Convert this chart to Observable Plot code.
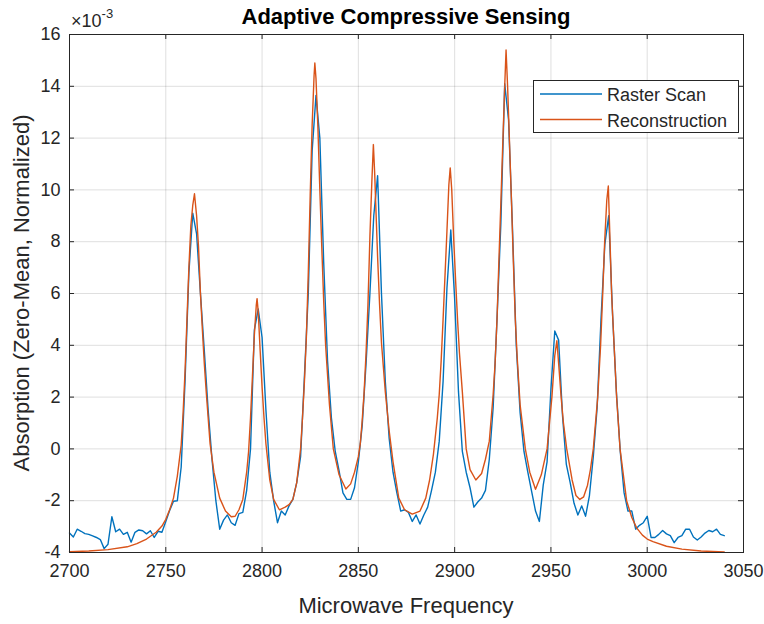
<!DOCTYPE html>
<html><head><meta charset="utf-8">
<script src="https://cdn.jsdelivr.net/npm/d3@7"></script>
<script src="https://cdn.jsdelivr.net/npm/@observablehq/plot@0.6"></script>
<style>body{margin:0;background:#fff} #chart{width:764px;height:624px}</style>
</head><body><div id="chart"></div>
<script>
const titleText = "Adaptive Compressive Sensing";
const xLabel = "Microwave Frequency";
const yLabel = "Absorption (Zero-Mean, Normalized)";
const exponentBase = "\u00D710";
const exponentPower = "-3";
const seriesNames = ["Raster Scan", "Reconstruction"];
const seriesColors = ["#0072BD", "#D95319"];

const xTicks = [2700, 2750, 2800, 2850, 2900, 2950, 3000, 3050];
const yTicks = [-4, -2, 0, 2, 4, 6, 8, 10, 12, 14, 16];
const yTickLabels = ["-4", "-2", "0", "2", "4", "6", "8", "10", "12", "14", "16"];

// Raster Scan (values in units of 1e-3)
const rasterFreq = [2700,2702,2704,2706,2708,2710,2712,2714,2716,2718,2720,2722,2724,2726,2728,2730,2732,2734,2736,2738,2740,2742,2744,2746,2748,2750,2752,2754,2756,2758,2760,2762,2764,2766,2768,2770,2772,2774,2776,2778,2780,2782,2784,2786,2788,2790,2792,2794,2796,2798,2800,2802,2804,2806,2808,2810,2812,2814,2816,2818,2820,2822,2824,2826,2828,2830,2832,2834,2836,2838,2840,2842,2844,2846,2848,2850,2852,2854,2856,2858,2860,2862,2864,2866,2868,2870,2872,2874,2876,2878,2880,2882,2884,2886,2888,2890,2892,2894,2896,2898,2900,2902,2904,2906,2908,2910,2912,2914,2916,2918,2920,2922,2924,2926,2928,2930,2932,2934,2936,2938,2940,2942,2944,2946,2948,2950,2952,2954,2956,2958,2960,2962,2964,2966,2968,2970,2972,2974,2976,2978,2980,2982,2984,2986,2988,2990,2992,2994,2996,2998,3000,3002,3004,3006,3008,3010,3012,3014,3016,3018,3020,3022,3024,3026,3028,3030,3032,3034,3036,3038,3040];
const rasterValue = [-3.25,-3.40,-3.10,-3.18,-3.27,-3.30,-3.36,-3.42,-3.50,-3.85,-3.68,-2.62,-3.20,-3.10,-3.30,-3.22,-3.60,-3.22,-3.13,-3.16,-3.28,-3.16,-3.42,-3.18,-3.22,-2.80,-2.38,-2.02,-2.00,-0.70,2.60,6.80,9.10,8.30,6.00,3.80,1.50,-0.40,-2.00,-3.10,-2.75,-2.55,-2.85,-2.95,-2.50,-2.45,-1.60,0.00,4.60,5.40,4.30,1.50,-0.90,-2.00,-2.85,-2.40,-2.55,-2.20,-1.95,-1.30,-0.30,2.80,6.00,11.50,13.65,12.00,7.20,3.40,1.20,-0.10,-0.85,-1.70,-1.95,-1.95,-1.50,-0.50,0.90,3.30,6.00,9.00,10.55,6.00,2.60,0.40,-0.90,-1.70,-2.40,-2.35,-2.45,-2.80,-2.55,-2.90,-2.55,-2.25,-1.60,-0.90,0.30,2.60,6.20,8.45,5.80,2.20,-0.10,-0.90,-1.50,-2.25,-2.05,-1.90,-1.60,-0.40,1.60,5.00,8.70,14.10,12.70,8.60,4.00,1.40,-0.10,-0.90,-1.65,-2.40,-2.80,-1.40,-0.50,2.30,4.55,4.20,1.30,-0.60,-1.30,-2.10,-2.55,-2.20,-2.60,-1.80,-0.30,1.60,5.00,7.90,9.00,5.20,2.20,-0.10,-1.70,-2.40,-2.40,-3.10,-2.95,-2.85,-2.60,-3.42,-3.42,-3.30,-3.15,-3.28,-3.35,-3.62,-3.42,-3.35,-3.10,-3.10,-3.40,-3.52,-3.40,-3.25,-3.15,-3.20,-3.10,-3.30,-3.35];

// Reconstruction (values in units of 1e-3)
const reconFreq = [2700,2710,2720,2730,2735,2740,2745,2748,2750,2752,2754,2756,2757,2758,2759,2760,2761,2762,2763,2764,2764.9,2766,2767,2768,2769,2770,2771,2772,2773,2775,2778,2781,2784,2786,2788,2790,2792,2793,2794,2795,2796,2797,2797.4,2798,2799,2800,2801,2802,2804,2806,2809,2812,2814,2816,2818,2820,2821,2822,2823,2824,2825,2826,2827,2827.4,2828,2829,2830,2831,2832,2833,2835,2837,2840,2843.5,2846,2848,2850,2851,2852,2853,2854,2855,2856,2857,2857.8,2858.5,2859,2860,2861,2862,2864,2866,2868,2871,2874,2878,2882,2885,2887,2889,2891,2892,2893,2894,2895,2896,2897,2897.7,2898.5,2899.5,2900.5,2901.5,2902.5,2904,2906,2908,2911,2914,2916,2918,2920,2921,2922,2923,2924,2925,2926,2926.7,2927.5,2928.5,2929.5,2930.5,2931.5,2932.5,2934,2936.7,2939,2942,2945,2948,2950.5,2952,2953.1,2954,2955.3,2956.5,2958.2,2961,2963,2965,2967,2969,2970.5,2972,2974.3,2975.8,2976.9,2977.9,2979,2979.8,2980.7,2981.5,2982.8,2984.1,2985.9,2989.3,2992,2994.5,2997.5,3000,3003,3010,3018,3028,3040];
const reconValue = [-3.97,-3.94,-3.89,-3.78,-3.66,-3.48,-3.22,-2.98,-2.72,-2.35,-1.90,-1.05,-0.45,0.15,1.40,3.00,5.00,7.00,8.60,9.40,9.85,9.00,7.80,6.00,4.60,3.30,2.20,1.20,0.20,-0.90,-1.90,-2.40,-2.62,-2.60,-2.35,-1.95,-0.90,-0.10,1.20,2.80,4.40,5.55,5.80,5.30,3.80,2.40,1.20,0.20,-1.20,-1.95,-2.35,-2.25,-2.15,-1.95,-1.30,0.00,1.20,2.60,4.30,6.80,9.80,12.50,14.40,14.90,14.30,12.40,10.00,7.80,5.70,4.00,1.70,0.00,-1.00,-1.55,-1.35,-0.90,-0.30,0.20,1.10,2.20,3.70,5.60,8.20,10.30,11.75,10.60,9.50,7.40,5.60,4.10,2.20,0.70,-0.50,-1.90,-2.35,-2.52,-2.40,-1.90,-1.20,-0.20,1.20,2.10,3.40,5.00,6.70,8.40,10.20,10.85,10.00,8.10,6.50,5.00,3.70,2.20,0.00,-0.80,-1.20,-0.95,-0.40,0.30,2.10,3.30,5.00,7.30,9.50,11.80,14.00,15.40,14.00,11.80,9.60,7.20,5.00,3.50,1.70,0.00,-0.90,-1.56,-1.00,0.00,2.00,3.60,4.18,3.30,2.00,1.00,0.00,-1.20,-1.80,-1.95,-1.85,-1.40,-0.80,0.00,2.00,4.00,6.00,8.00,9.60,10.15,8.00,6.00,4.00,2.00,0.00,-2.00,-2.65,-3.05,-3.33,-3.48,-3.58,-3.76,-3.87,-3.94,-3.98];

const raster = rasterFreq.map((f, i) => ({f, v: rasterValue[i]}));
const recon = reconFreq.map((f, i) => ({f, v: reconValue[i]}));

const W = 764, H = 624, mL = 69, mR = 21, mT = 34, mB = 72;
const plotW = W - mL - mR, plotH = H - mT - mB, tickLen = 5;
const font = "'Liberation Sans', Arial, Helvetica, sans-serif";
const axisColor = "#262626";

const plot = Plot.plot({
  width: W, height: H,
  marginLeft: mL, marginRight: mR, marginTop: mT, marginBottom: mB,
  style: {fontFamily: font, fontSize: "18px", color: axisColor, background: "#fff", overflow: "visible"},
  x: {domain: [xTicks[0], xTicks[xTicks.length - 1]]},
  y: {domain: [yTicks[0], yTicks[yTicks.length - 1]]},
  marks: [
    Plot.gridX(xTicks, {stroke: axisColor, strokeOpacity: 0.15, strokeWidth: 1}),
    Plot.gridY(yTicks, {stroke: axisColor, strokeOpacity: 0.15, strokeWidth: 1}),
    Plot.line(raster, {x: "f", y: "v", stroke: seriesColors[0], strokeWidth: 1.4}),
    Plot.line(recon, {x: "f", y: "v", stroke: seriesColors[1], strokeWidth: 1.4}),
    Plot.tickX(xTicks, {x: d => d, insetTop: plotH - tickLen, stroke: axisColor}),
    Plot.tickX(xTicks, {x: d => d, insetBottom: plotH - tickLen, stroke: axisColor}),
    Plot.tickY(yTicks, {y: d => d, insetRight: plotW - tickLen, stroke: axisColor}),
    Plot.tickY(yTicks, {y: d => d, insetLeft: plotW - tickLen, stroke: axisColor}),
    Plot.frame({stroke: axisColor, strokeWidth: 1}),
    Plot.axisX(xTicks, {tickSize: 0, tickPadding: 12, fontSize: 18, label: null, tickFormat: d => String(d)}),
    Plot.axisY(yTicks, {tickSize: 0, tickPadding: 9, fontSize: 18, label: null, tickFormat: d => yTickLabels[yTicks.indexOf(d)]})
  ]
});

document.getElementById("chart").appendChild(plot);
const svg = d3.select(plot);
const cx = mL + plotW / 2, cy = mT + plotH / 2;

svg.append("text").attr("x", cx).attr("y", 24).attr("text-anchor", "middle")
  .attr("font-family", font).attr("font-size", 22).attr("font-weight", "bold").attr("fill", "#000")
  .text(titleText);

const expo = svg.append("text").attr("x", 71).attr("y", 27).attr("text-anchor", "start")
  .attr("font-family", font).attr("font-size", 18).attr("fill", axisColor);
expo.append("tspan").text(exponentBase);
expo.append("tspan").attr("font-size", 13).attr("dy", -9).text(exponentPower);

svg.append("text").attr("x", cx).attr("y", 613).attr("text-anchor", "middle")
  .attr("font-family", font).attr("font-size", 22).attr("fill", axisColor).text(xLabel);

svg.append("text").attr("transform", `translate(29,${cy}) rotate(-90)`).attr("text-anchor", "middle")
  .attr("font-family", font).attr("font-size", 22).attr("fill", axisColor).text(yLabel);

// legend
const lg = svg.append("g");
lg.append("rect").attr("x", 533.5).attr("y", 80.5).attr("width", 205).attr("height", 52)
  .attr("fill", "#fff").attr("stroke", axisColor).attr("stroke-width", 1);
seriesNames.forEach((name, i) => {
  const yy = 94 + i * 25.5;
  lg.append("line").attr("x1", 540).attr("x2", 602).attr("y1", yy).attr("y2", yy)
    .attr("stroke", seriesColors[i]).attr("stroke-width", 1.4);
  lg.append("text").attr("x", 607).attr("y", yy + 7).attr("text-anchor", "start").attr("font-family", font)
    .attr("font-size", 18).attr("fill", axisColor).text(name);
});
</script>
</body></html>
